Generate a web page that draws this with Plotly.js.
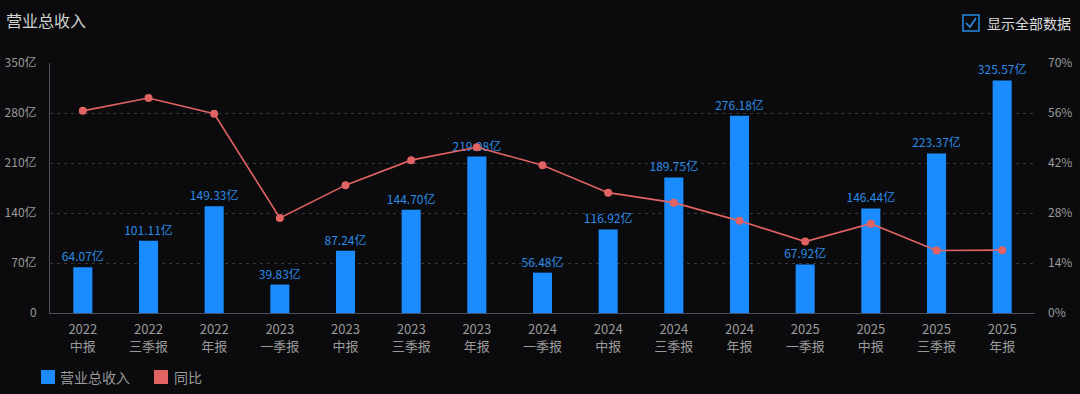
<!DOCTYPE html>
<html>
<head>
<meta charset="utf-8">
<script src="https://cdn.plot.ly/plotly-3.0.1.min.js"></script>
<style>
html,body{margin:0;padding:0;background:#0b0b0d;}
#chart{width:1080px;height:394px;}
</style>
</head>
<body>
<div id="chart"></div>
<script>
const years = ['2022','2022','2022','2023','2023','2023','2023','2024','2024','2024','2024','2025','2025','2025','2025'];
const periods = ['中报','三季报','年报','一季报','中报','三季报','年报','一季报','中报','三季报','年报','一季报','中报','三季报','年报'];
const revenue = [64.07,101.11,149.33,39.83,87.24,144.70,219.08,56.48,116.92,189.75,276.18,67.92,146.44,223.37,325.57];
const yoy = [56.6,60.2,55.8,26.6,35.8,42.8,46.4,41.4,33.7,30.9,25.8,20.0,25.0,17.5,17.6];
const leftTicks = [0,70,140,210,280,350];
const rightTicks = [0,14,28,42,56,70];

const categories = years.map((y,i)=> y + '<br>' + periods[i]);
const FONT = 'Noto Sans CJK SC, Noto Sans, sans-serif';
const BLUE = '#1a8cff';
const RED = '#e06262';
const TICK = '#9a9a9a';

const traces = [
  {
    type:'bar', name:'营业总收入', x:categories, y:revenue,
    marker:{color:BLUE}, width:0.29,
    text: revenue.map(v=>v.toFixed(2)+'亿'), textposition:'outside', constraintext:'none',
    textfont:{color:'#2a8ce6', size:12, family:FONT},
    cliponaxis:false, showlegend:false, hoverinfo:'x+y'
  },
  {
    type:'scatter', mode:'lines+markers', name:'同比', x:categories, y:yoy, yaxis:'y2',
    line:{color:RED, width:1.6}, marker:{color:RED, size:8},
    cliponaxis:false, showlegend:false
  }
];

const px = x => (x-50)/985;
const py = y => (313-y)/250;

const layout = {
  width:1080, height:394,
  margin:{l:50, r:45, t:63, b:81},
  paper_bgcolor:'#0b0b0d', plot_bgcolor:'#0b0b0d',
  font:{family:FONT, color:TICK, size:12},
  showlegend:false,
  xaxis:{
    type:'category', range:[-0.5, categories.length-0.5], autorange:false,
    showgrid:false, zeroline:false,
    showline:true, linecolor:'#4b5060', linewidth:1,
    ticks:'', tickfont:{size:13, color:TICK, family:FONT},
    ticklabelstandoff:4
  },
  yaxis:{
    range:[0,350], tickvals:leftTicks, ticktext:leftTicks.map(v=> v===0?'0':v+'亿'),
    showgrid:true, gridcolor:'#38383c', griddash:'3px,4px', gridwidth:1,
    zeroline:false, showline:true, linecolor:'#4b5060', linewidth:1,
    ticks:'', tickfont:{size:12, color:TICK, family:FONT}, ticklabelstandoff:10
  },
  yaxis2:{
    overlaying:'y', side:'right', range:[0,70], tickvals:rightTicks, ticktext:rightTicks.map(v=>v+'%'),
    showgrid:false, zeroline:false, showline:false,
    ticks:'', tickfont:{size:12, color:TICK, family:FONT}, ticklabelstandoff:12
  },
  annotations:[
    {xref:'paper', yref:'paper', x:px(4), y:py(20), xanchor:'left', yanchor:'middle', showarrow:false,
     text:'营业总收入', font:{size:16, color:'#d2d2d2', family:FONT}},
    {xref:'paper', yref:'paper', x:px(985), y:py(23), xanchor:'left', yanchor:'middle', showarrow:false,
     text:'显示全部数据', font:{size:14, color:'#dcdcdc', family:FONT}},
    {xref:'paper', yref:'paper', x:px(58), y:py(377), xanchor:'left', yanchor:'middle', showarrow:false,
     text:'营业总收入', font:{size:14, color:TICK, family:FONT}},
    {xref:'paper', yref:'paper', x:px(172), y:py(377), xanchor:'left', yanchor:'middle', showarrow:false,
     text:'同比', font:{size:14, color:TICK, family:FONT}}
  ],
  shapes:[
    {type:'rect', xref:'paper', yref:'paper', x0:px(963), x1:px(979), y0:py(15), y1:py(31),
     line:{color:'#2a8ce6', width:1.5}, fillcolor:'rgba(0,0,0,0)'},
    {type:'path', xref:'paper', yref:'paper',
     path:`M ${px(966)} ${py(23)} L ${px(970)} ${py(27)} L ${px(976)} ${py(18)}`,
     line:{color:'#2a8ce6', width:1.6}},
    {type:'rect', xref:'paper', yref:'paper', x0:px(41), x1:px(55), y0:py(370), y1:py(384),
     line:{width:0}, fillcolor:BLUE},
    {type:'rect', xref:'paper', yref:'paper', x0:px(154), x1:px(168), y0:py(370), y1:py(384),
     line:{width:0}, fillcolor:RED}
  ]
};

Plotly.newPlot('chart', traces, layout, {displayModeBar:false, staticPlot:true});
</script>
</body>
</html>
